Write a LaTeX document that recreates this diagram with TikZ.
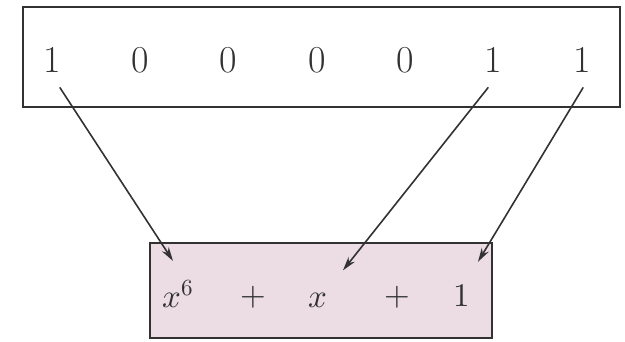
\documentclass[tikz,border=0pt]{standalone}
\usepackage{unicode-math}
\usetikzlibrary{arrows.meta}
\definecolor{termpink}{RGB}{236,221,229}
\definecolor{inkgray}{RGB}{50,50,50}

\begin{document}
\begin{tikzpicture}[x=1pt,y=-1pt,>={Stealth[length=14pt,width=8pt]},
  font=\fontsize{38}{44}\selectfont,line cap=round,
  bitstyle/.style={inner sep=2pt,text=inkgray},
  termstyle/.style={inner sep=2pt,text=inkgray,font=\fontsize{33}{38}\selectfont},
  maparrow/.style={->,draw=inkgray,line width=1.6pt}]
\useasboundingbox (0,0) rectangle (625,342);
% bit register
\draw[inkgray,line width=1.8pt] (23,7) rectangle (620,107);
\foreach \b/\x [count=\i] in {1/52,0/140,0/228,0/317,0/405,1/493,1/582}
  \node[bitstyle] (b\i) at (\x,60) {\b};
% polynomial
\draw[inkgray,line width=1.8pt,fill=termpink] (150,243) rectangle (492,338);
\node[termstyle] (t1) at (178,294) {$x^6$};
\node[termstyle] (t2) at (253,297) {$+$};
\node[termstyle] (t3) at (318,300) {$x$};
\node[termstyle] (t4) at (397,297) {$+$};
\node[termstyle] (t5) at (462,296) {$1$};
% mapping
\draw[maparrow] ([xshift=8pt,yshift=-13pt]b1.south) -- ([xshift=-5pt,yshift=17pt]t1.north);
\draw[maparrow] ([xshift=-5pt,yshift=-13pt]b6.south) -- ([xshift=25pt,yshift=20pt]t3.north);
\draw[maparrow] ([xshift=1pt,yshift=-13pt]b7.south) -- ([xshift=16pt,yshift=21pt]t5.north);
\end{tikzpicture}
\end{document}
